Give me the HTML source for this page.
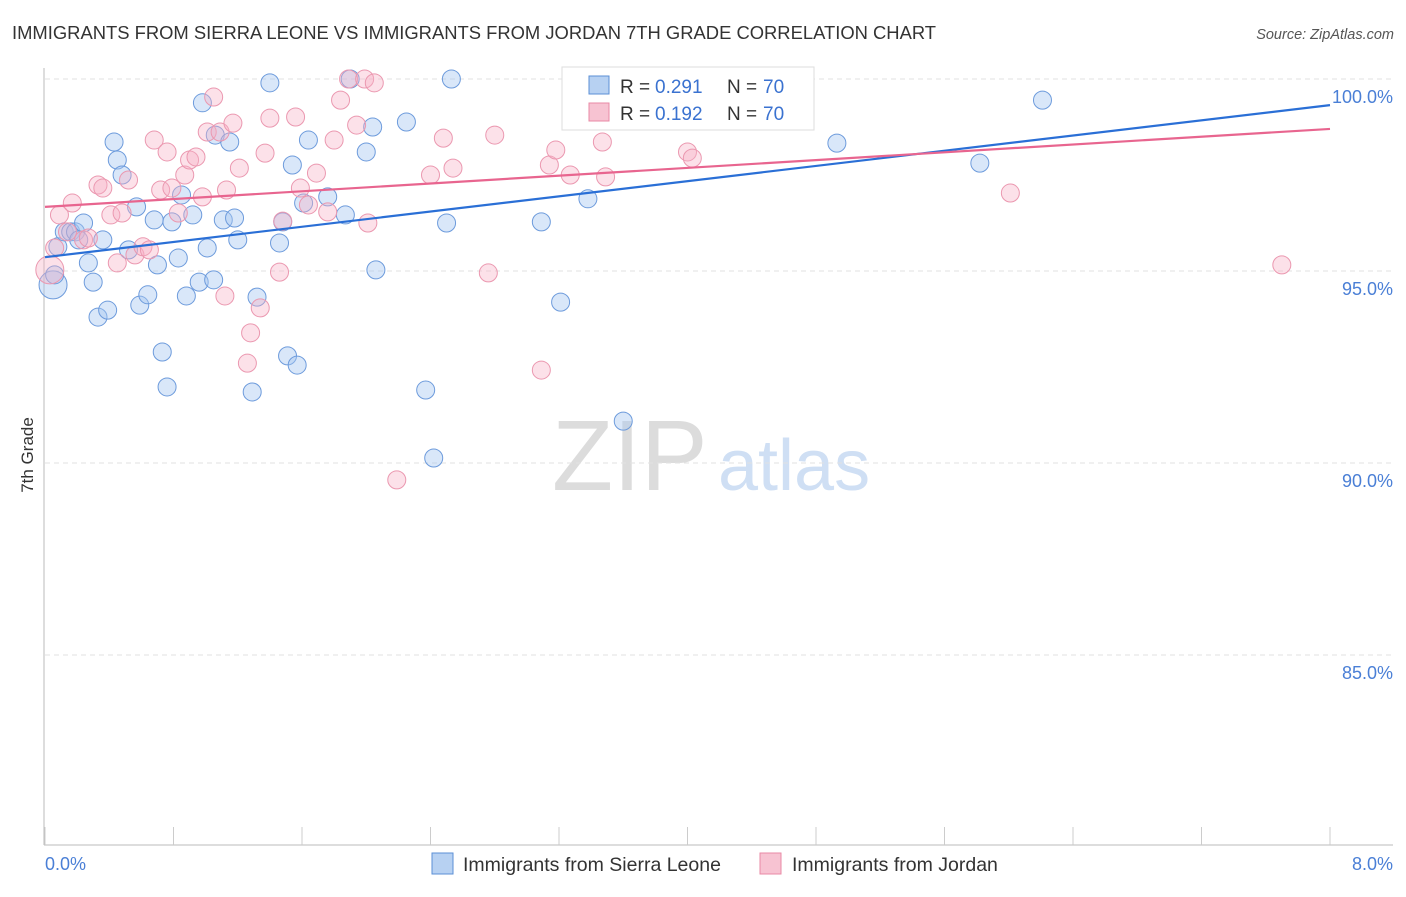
<!DOCTYPE html>
<html><head><meta charset="utf-8"><style>
body{margin:0;background:#fff;font-family:"Liberation Sans",sans-serif;}
svg text{font-family:"Liberation Sans",sans-serif;}
</style></head><body>
<svg id="chart" width="1406" height="892" xmlns="http://www.w3.org/2000/svg">
<text x="12" y="39" font-size="18.4" fill="#333">IMMIGRANTS FROM SIERRA LEONE VS IMMIGRANTS FROM JORDAN 7TH GRADE CORRELATION CHART</text>
<text x="1394" y="39" font-size="14.5" fill="#555" text-anchor="end" font-style="italic">Source: ZipAtlas.com</text>
<g>
<text x="552" y="490" font-size="100" fill="#dcdcdc" font-family="Liberation Serif">ZIP</text>
<text x="718" y="490" font-size="72" fill="#cfdff4">atlas</text>
</g>
<g id="grid"></g>
<g id="axes"></g>
<g id="points"></g>
<g id="lines"></g>
<text transform="translate(33,455) rotate(-90)" font-size="17" fill="#333" text-anchor="middle">7th Grade</text>
<g>
<rect x="562" y="67" width="252" height="63" fill="#fff" stroke="#ddd"/>
<rect x="589" y="76" width="20" height="18" fill="#b7d1f2" stroke="#5b8fd6"/>
<text x="620" y="93" font-size="19" fill="#333">R =</text>
<text x="655" y="93" font-size="19" fill="#3a72d0">0.291</text>
<text x="727" y="93" font-size="19" fill="#333">N =</text>
<text x="763" y="93" font-size="19" fill="#3a72d0">70</text>
<rect x="589" y="103" width="20" height="18" fill="#f7c3d2" stroke="#e88aa5"/>
<text x="620" y="120" font-size="19" fill="#333">R =</text>
<text x="655" y="120" font-size="19" fill="#3a72d0">0.192</text>
<text x="727" y="120" font-size="19" fill="#333">N =</text>
<text x="763" y="120" font-size="19" fill="#3a72d0">70</text>
</g>
<g>
<rect x="432" y="853" width="21" height="21" fill="#b7d1f2" stroke="#5b8fd6"/>
<text x="463" y="871" font-size="19.5" fill="#333">Immigrants from Sierra Leone</text>
<rect x="760" y="853" width="21" height="21" fill="#f7c3d2" stroke="#e88aa5"/>
<text x="792" y="871" font-size="19.5" fill="#333">Immigrants from Jordan</text>
</g>
</svg>
<script>
const yTicks=[100,95,90,85];
const xTickLabels=["0.0%","8.0%"];
const blueX=[0.05,0.06,0.08,0.12,0.16,0.19,0.24,0.21,0.27,0.30,0.33,0.36,0.39,0.43,0.45,0.48,0.52,0.57,0.59,0.64,0.68,0.70,0.73,0.76,0.79,0.83,0.85,0.88,0.92,0.96,0.98,1.01,1.05,1.06,1.11,1.15,1.18,1.20,1.29,1.32,1.40,1.46,1.48,1.51,1.54,1.57,1.61,1.64,1.76,1.87,1.90,2.00,2.04,2.06,2.25,2.37,2.42,2.50,2.53,3.09,3.21,3.35,3.38,3.60,4.32,4.93,5.82,6.21];
const blueY=[94.64,94.90,95.63,96.02,96.02,96.02,96.25,95.81,95.21,94.71,93.80,95.81,93.98,98.36,97.89,97.50,95.55,96.67,94.11,94.38,96.33,95.16,92.89,91.98,96.28,95.34,96.98,94.35,96.46,94.71,99.38,95.60,94.77,98.54,96.33,98.36,96.38,95.81,91.85,94.32,99.90,95.73,96.28,92.79,97.76,92.55,96.77,98.41,96.93,96.46,100.0,98.10,98.75,95.03,98.88,91.90,90.13,96.25,100.0,96.28,94.19,100.0,96.88,91.09,100.0,98.33,97.81,99.45];
const pinkX=[0.03,0.06,0.09,0.14,0.17,0.24,0.27,0.33,0.36,0.41,0.45,0.48,0.52,0.56,0.61,0.65,0.68,0.72,0.76,0.79,0.83,0.87,0.90,0.94,0.98,1.01,1.05,1.09,1.12,1.13,1.17,1.21,1.26,1.28,1.34,1.37,1.40,1.46,1.48,1.56,1.59,1.64,1.69,1.76,1.80,1.84,1.89,1.94,1.99,2.01,2.05,2.19,2.40,2.48,2.54,2.76,2.80,3.09,3.14,3.18,3.27,3.47,3.49,3.69,4.00,4.03,4.60,6.01,7.70];
const pinkY=[95.03,95.60,96.46,96.02,96.77,95.81,95.86,97.24,97.16,96.46,95.21,96.51,97.37,95.42,95.63,95.55,98.41,97.11,98.10,97.16,96.51,97.50,97.89,97.97,96.93,98.62,99.53,98.62,94.35,97.11,98.85,97.68,92.60,93.39,94.04,98.07,98.98,94.97,96.30,99.01,97.16,96.72,97.55,96.54,98.41,99.45,100.0,98.80,100.0,96.25,99.90,89.56,97.50,98.46,97.68,94.95,98.54,92.42,97.76,98.15,97.50,98.36,97.45,100.0,98.10,97.94,100.0,97.03,95.16];
const blueTrend=[95.36,99.32];
const pinkTrend=[96.67,98.70];
const NS="http://www.w3.org/2000/svg";
const X0=45,X1=1330,Y100=79,PPU=38.4;
const xs=v=>X0+(v/8)*(X1-X0);
const ys=v=>Y100+(100-v)*PPU;
function mk(tag,attrs,parent){const e=document.createElementNS(NS,tag);for(const k in attrs)e.setAttribute(k,attrs[k]);parent.appendChild(e);return e;}
const grid=document.getElementById('grid'),axes=document.getElementById('axes'),pts=document.getElementById('points'),lines=document.getElementById('lines');
yTicks.forEach(t=>{
 const l=mk('line',{x1:X0,x2:1393,y1:ys(t),y2:ys(t),stroke:'#e2e2e2','stroke-dasharray':'5,4'},grid);
 
 
 const tx=mk('text',{x:1393,y:ys(t)+24,'font-size':18,fill:'#4a7fd6','text-anchor':'end'},grid);
 tx.textContent=t.toFixed(1)+'%';
 
 
});
const ax=mk('line',{x1:44,x2:44,y1:68,y2:845,stroke:'#bbb'},axes);


const bx=mk('line',{x1:44,x2:1393,y1:845,y2:845,stroke:'#bbb'},axes);


for(let i=0;i<=10;i++){
 const t=mk('line',{x1:xs(i*0.8),x2:xs(i*0.8),y1:827,y2:845,stroke:'#ccc'},axes);
 
 
}
const xl0=mk('text',{x:45,y:870,'font-size':18,fill:'#4a7fd6'},axes);xl0.textContent=xTickLabels[0];


const xl1=mk('text',{x:1393,y:870,'font-size':18,fill:'#4a7fd6','text-anchor':'end'},axes);xl1.textContent=xTickLabels[1];


function series(X,Y,fill,stroke,name){
 X.forEach((x,i)=>{
  const r=(i===0)?14:9;
  const c=mk('circle',{cx:xs(x),cy:ys(Y[i]),r:r,fill:fill,stroke:stroke,'stroke-width':1},pts);
  
  
 });
}
series(blueX,blueY,'rgba(165,198,240,0.42)','#6d9bdc','sierra-leone');
series(pinkX,pinkY,'rgba(246,176,196,0.38)','#eb98b0','jordan');
const bl=mk('line',{x1:xs(0),x2:xs(8),y1:ys(blueTrend[0]),y2:ys(blueTrend[1]),stroke:'#2a6fd6','stroke-width':2.2},lines);


const pl=mk('line',{x1:xs(0),x2:xs(8),y1:ys(pinkTrend[0]),y2:ys(pinkTrend[1]),stroke:'#e8658f','stroke-width':2.2},lines);


</script>
</body></html>
